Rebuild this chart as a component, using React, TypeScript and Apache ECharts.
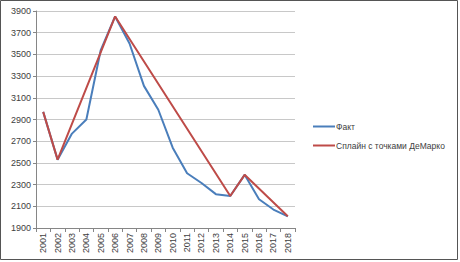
import React, { useEffect, useRef } from "react";
import * as echarts from "echarts";

const years = ["2001","2002","2003","2004","2005","2006","2007","2008","2009","2010","2011","2012","2013","2014","2015","2016","2017","2018"];
const fact = [2970, 2530, 2770, 2900, 3540, 3850, 3600, 3210, 2990, 2640, 2405, 2315, 2212, 2195, 2390, 2165, 2070, 2008];
const demarko: (number | null)[] = [2970, 2530, null, null, null, 3850, null, null, null, null, null, null, null, 2195, 2390, null, null, 2008];

export default function App() {
  const ref = useRef<HTMLDivElement>(null);
  useEffect(() => {
    const chart = echarts.init(ref.current!, null, { renderer: "svg" });
    const font = "Liberation Sans";
    chart.setOption({
      animation: false,
      backgroundColor: "#fff",
      graphic: [
        { type: "rect", shape: { x: 0.5, y: 0.5, width: 457, height: 259 }, style: { fill: "none", stroke: "#555", lineWidth: 1 }, silent: true },
      ],
      grid: { left: 36, right: 165, top: 11, bottom: 34 },
      legend: {
        orient: "vertical",
        left: 308,
        top: 117,
        itemWidth: 22,
        itemHeight: 2,
        itemGap: 10,
        icon: "rect",
        textStyle: { fontFamily: font, fontSize: 8.5, color: "#404040", padding: [0, 0, 0, -4] },
        data: ["Факт", "Сплайн с точками ДеМарко"],
      },
      xAxis: {
        type: "category",
        data: years,
        boundaryGap: true,
        axisLine: { lineStyle: { color: "#868686" } },
        axisTick: { show: true, length: 4, lineStyle: { color: "#868686" } },
        axisLabel: { rotate: 90, fontFamily: font, fontSize: 9, color: "#404040", margin: 5, interval: 0 },
      },
      yAxis: {
        type: "value",
        min: 1900,
        max: 3900,
        interval: 200,
        axisLine: { show: true, lineStyle: { color: "#868686" } },
        axisTick: { show: true, length: 3, lineStyle: { color: "#868686" } },
        axisLabel: { fontFamily: font, fontSize: 9, color: "#404040", margin: 5, formatter: (v: number) => String(v) },
        splitLine: { lineStyle: { color: "#c8c8c8" } },
      },
      series: [
        {
          name: "Факт",
          type: "line",
          data: fact,
          symbol: "none",
          lineStyle: { color: "#4a7ebb", width: 2 },
          itemStyle: { color: "#4a7ebb" },
        },
        {
          name: "Сплайн с точками ДеМарко",
          type: "line",
          data: demarko,
          connectNulls: true,
          symbol: "none",
          lineStyle: { color: "#be4b48", width: 2 },
          itemStyle: { color: "#be4b48" },
        },
      ],
    });
    return () => chart.dispose();
  }, []);
  return <div ref={ref} style={{ width: 460, height: 262, position: "absolute", left: 0, top: 0 }} />;
}
